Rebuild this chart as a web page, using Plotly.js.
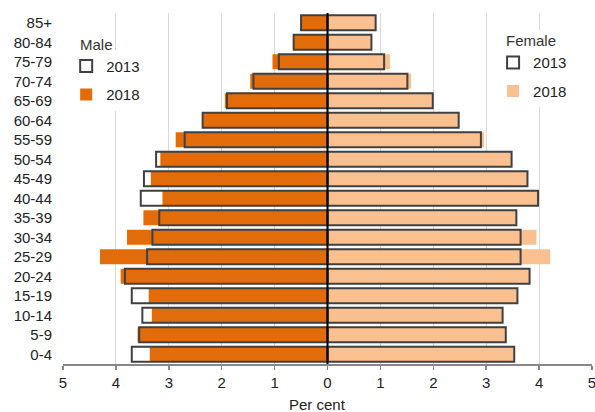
<!DOCTYPE html>
<html>
<head>
<meta charset="utf-8">
<script src="https://cdn.plot.ly/plotly-3.0.1.min.js"></script>
<style>html,body{margin:0;padding:0;background:#fff;}#chart{width:595px;height:412px;}</style>
</head>
<body>
<div id="chart"></div>
<script>
var ageGroups = ["0-4","5-9","10-14","15-19","20-24","25-29","30-34","35-39","40-44","45-49","50-54","55-59","60-64","65-69","70-74","75-79","80-84","85+"];
var male2013   = [3.70,3.56,3.50,3.70,3.83,3.41,3.31,3.18,3.53,3.47,3.24,2.70,2.36,1.90,1.40,0.92,0.64,0.50];
var male2018   = [3.36,3.59,3.32,3.38,3.91,4.30,3.79,3.48,3.12,3.34,3.16,2.87,2.36,1.94,1.46,1.04,0.64,0.50];
var female2013 = [3.53,3.37,3.31,3.59,3.82,3.65,3.65,3.57,3.98,3.78,3.48,2.90,2.48,1.99,1.51,1.07,0.83,0.91];
var female2018 = [3.53,3.37,3.31,3.59,3.82,4.21,3.95,3.57,3.98,3.78,3.48,2.96,2.48,1.99,1.58,1.18,0.83,0.91];
var tickVals = [-5,-4,-3,-2,-1,0,1,2,3,4,5];
var tickText = ["5","4","3","2","1","0","1","2","3","4","5"];

function neg(a){ return a.map(function(v){ return -v; }); }

var MALE_FILL = "#E36C0A", FEMALE_FILL = "#FAC090", OUTLINE = "#404040";
var BW = 0.78;

var traces = [
  {type:"bar", orientation:"h", name:"2018", y:ageGroups, x:neg(male2018), width:BW,
   marker:{color:MALE_FILL, line:{width:0}}, legend:"legend", legendrank:2, legendgroup:"m18", hoverinfo:"none"},
  {type:"bar", orientation:"h", name:"2018", y:ageGroups, x:female2018, width:BW,
   marker:{color:FEMALE_FILL, line:{width:0}}, legend:"legend2", legendrank:2, legendgroup:"f18", hoverinfo:"none"},
  {type:"bar", orientation:"h", name:"2013", y:ageGroups, x:neg(male2013), width:BW,
   marker:{color:"rgba(0,0,0,0)", line:{color:OUTLINE, width:2}}, legend:"legend", legendrank:1, legendgroup:"m13", hoverinfo:"none"},
  {type:"bar", orientation:"h", name:"2013", y:ageGroups, x:female2013, width:BW,
   marker:{color:"rgba(0,0,0,0)", line:{color:OUTLINE, width:2}}, legend:"legend2", legendrank:1, legendgroup:"f13", hoverinfo:"none"}
];

var FONT = "Liberation Sans, Arial, sans-serif";
var layout = {
  width:595, height:412,
  margin:{l:63, r:3, t:13, b:48},
  paper_bgcolor:"#fff", plot_bgcolor:"#fff",
  barmode:"overlay",
  font:{family:FONT, size:15, color:"#222"},
  xaxis:{range:[-5,5], tickvals:tickVals, ticktext:tickText, showgrid:true, gridcolor:"#d9d9d9", gridwidth:1,
         zeroline:false, showline:true, linecolor:"#888", linewidth:1.5, ticks:"outside", ticklen:4, tickcolor:"#888",
         tickwidth:1.5, tickfont:{size:15, color:"#222"}, ticklabeloverflow:"allow", fixedrange:true},
  yaxis:{type:"category", categoryorder:"array", categoryarray:ageGroups, range:[-0.5,17.5], showgrid:false,
         zeroline:false, showline:false, ticks:"", ticklabelstandoff:10, tickfont:{size:15, color:"#222"}, fixedrange:true},
  showlegend:true,
  legend:{x:0.006, y:0.895, xanchor:"left", yanchor:"top", bgcolor:"#fff", borderwidth:0,
          font:{size:15, color:"#222"}, traceorder:"grouped", tracegroupgap:6, itemwidth:30},
  legend2:{x:0.813, y:0.905, xanchor:"left", yanchor:"top", bgcolor:"#fff", borderwidth:0,
          font:{size:15, color:"#222"}, traceorder:"grouped", tracegroupgap:6, itemwidth:30},
  shapes:[{type:"line", xref:"x", yref:"paper", x0:0, x1:0, y0:0, y1:1, layer:"above", line:{color:"#000", width:2}}],
  annotations:[
    {text:"Per cent", xref:"paper", yref:"paper", x:0.482, y:-0.114, xanchor:"center", yanchor:"middle",
     showarrow:false, font:{size:15, color:"#222"}},
    {text:"Male", xref:"paper", yref:"paper", x:0.028, y:0.909, xanchor:"left", yanchor:"middle",
     showarrow:false, bgcolor:"#fff", font:{size:15, color:"#333"}},
    {text:"Female", xref:"paper", yref:"paper", x:0.834, y:0.923, xanchor:"left", yanchor:"middle",
     showarrow:false, bgcolor:"#fff", font:{size:15, color:"#333"}}
  ]
};

Plotly.newPlot("chart", traces, layout, {displayModeBar:false, staticPlot:true});
</script>
</body>
</html>
